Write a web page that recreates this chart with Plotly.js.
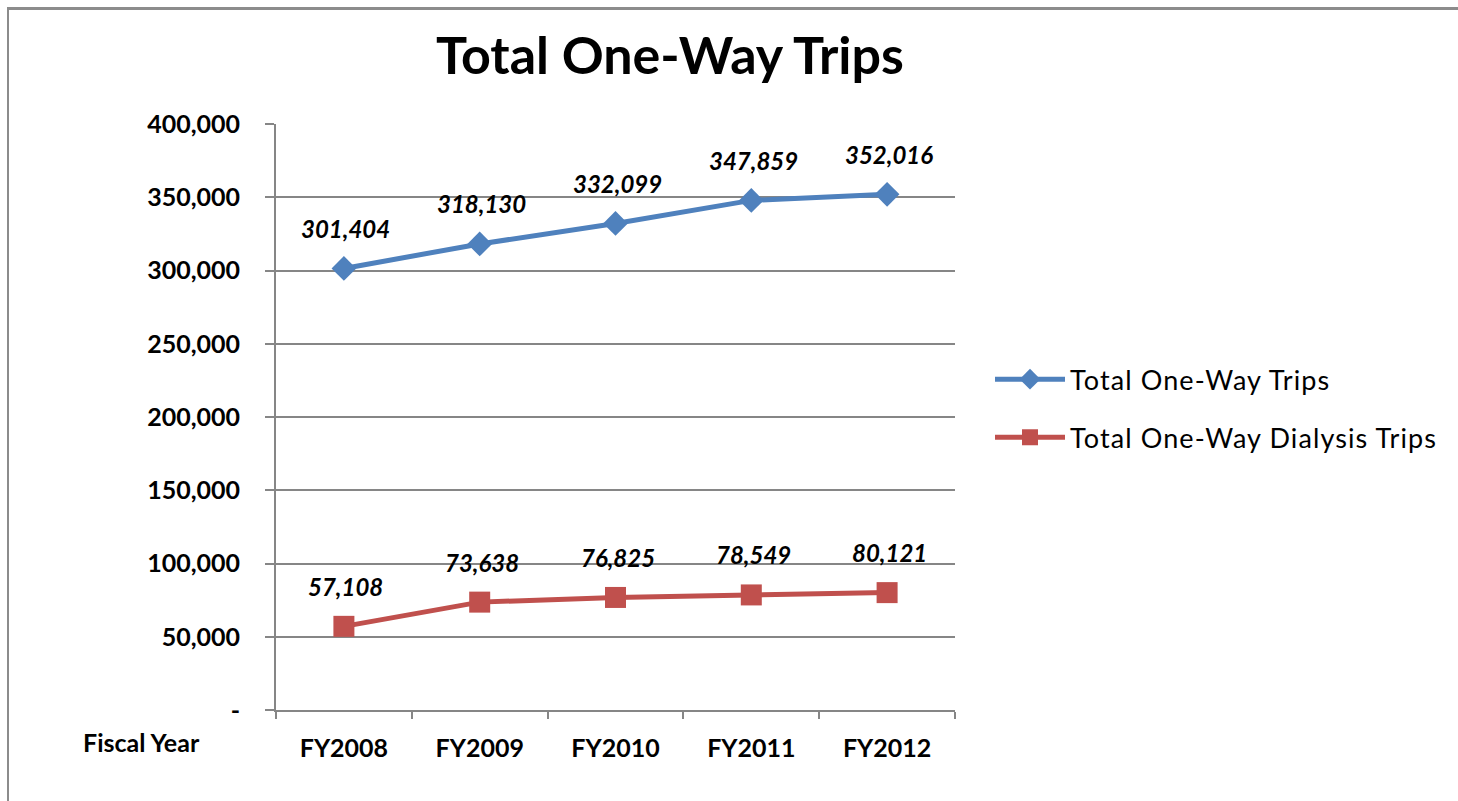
<!DOCTYPE html>
<html>
<head>
<meta charset="utf-8">
<script src="https://cdn.plot.ly/plotly-3.0.1.min.js"></script>
<style>
html,body{margin:0;padding:0;background:#fff;overflow:hidden;}
#chart{width:1458px;height:801px;}
#frame{position:absolute;left:7px;top:7px;width:3000px;height:3000px;border-left:2px solid #8c8c8c;border-top:3px solid #8c8c8c;pointer-events:none;}
.legendtext{letter-spacing:1.1px;}
</style>
</head>
<body>
<div id="chart"></div>
<div id="frame"></div>
<script>
var categories = ["FY2008", "FY2009", "FY2010", "FY2011", "FY2012"];
var totalTrips = [301404, 318130, 332099, 347859, 352016];
var dialysisTrips = [57108, 73638, 76825, 78549, 80121];
var yTickVals = [0, 50000, 100000, 150000, 200000, 250000, 300000, 350000, 400000];
var yTickText = ["-", "50,000", "100,000", "150,000", "200,000", "250,000", "300,000", "350,000", "400,000"];

var FONT = "Lato, Calibri, Carlito, 'Open Sans', sans-serif";
var blue = "#4F81BD", red = "#C0504D";

var traces = [
  {x: categories, y: totalTrips, name: "Total One-Way Trips", type: "scatter", mode: "lines+markers", legendgroup: "a",
   line: {color: blue, width: 5}, marker: {symbol: "diamond", size: 19, color: blue}},
  {x: categories, y: dialysisTrips, name: "Total One-Way Dialysis Trips", type: "scatter", mode: "lines+markers", legendgroup: "b",
   line: {color: red, width: 5}, marker: {symbol: "square", size: 21, color: red}}
];

var annotations = [];
function fmt(v){ return v.toLocaleString("en-US"); }
[totalTrips, dialysisTrips].forEach(function(series){
  series.forEach(function(v, i){
    annotations.push({x: categories[i], y: v, xref: "x", yref: "y", text: "<b><i>" + fmt(v) + "</i></b>",
      showarrow: false, yshift: 40, xshift: 2, font: {family: FONT, size: 24, color: "#000"}});
  });
});
annotations.push({xref: "paper", yref: "paper", x: (141 - 276) / 679, y: (801 - 743 - 90.5) / 587,
  text: "<b>Fiscal Year</b>", showarrow: false, xanchor: "center", yanchor: "middle",
  font: {family: FONT, size: 25, color: "#000"}});

var layout = {
  width: 1458, height: 801,
  margin: {l: 276, r: 503, t: 123.5, b: 90.5, pad: 0},
  paper_bgcolor: "#fff", plot_bgcolor: "#fff",
  font: {family: FONT, color: "#000"},
  title: {text: "<b>Total One-Way Trips</b>", font: {family: FONT, size: 52, color: "#000"},
    x: 670 / 1458, xanchor: "center", y: 1 - 56 / 801, yanchor: "middle", xref: "container", yref: "container"},
  xaxis: {type: "category", range: [-0.5, 4.5], showgrid: false, showline: true, linecolor: "#868686", linewidth: 2,
    ticks: "outside", tickson: "boundaries", ticklen: 7, tickcolor: "#868686", tickwidth: 2,
    tickfont: {family: FONT, size: 25, color: "#000"}, ticklabelstandoff: 15, zeroline: false, fixedrange: true,
    tickprefix: "<b>", ticksuffix: "</b>"},
  yaxis: {range: [0, 400000], tickvals: yTickVals, ticktext: yTickText.map(function(t){return "<b>" + t + "</b>";}),
    showgrid: true, gridcolor: "#868686", gridwidth: 2, showline: true, linecolor: "#868686", linewidth: 2,
    ticks: "outside", ticklen: 9, tickcolor: "#868686", tickwidth: 2, zeroline: false,
    tickfont: {family: FONT, size: 25, color: "#000"}, ticklabelstandoff: 20, fixedrange: true},
  showlegend: true,
  legend: {x: (990 - 276) / 679, y: (801 - 355 - 90.5) / 587, xanchor: "left", yanchor: "top",
    font: {family: FONT, size: 27, color: "#000"}, tracegroupgap: 20, itemwidth: 70, bgcolor: "rgba(0,0,0,0)"},
  annotations: annotations
};

Plotly.newPlot("chart", traces, layout, {displayModeBar: false, staticPlot: true});
</script>
</body>
</html>
